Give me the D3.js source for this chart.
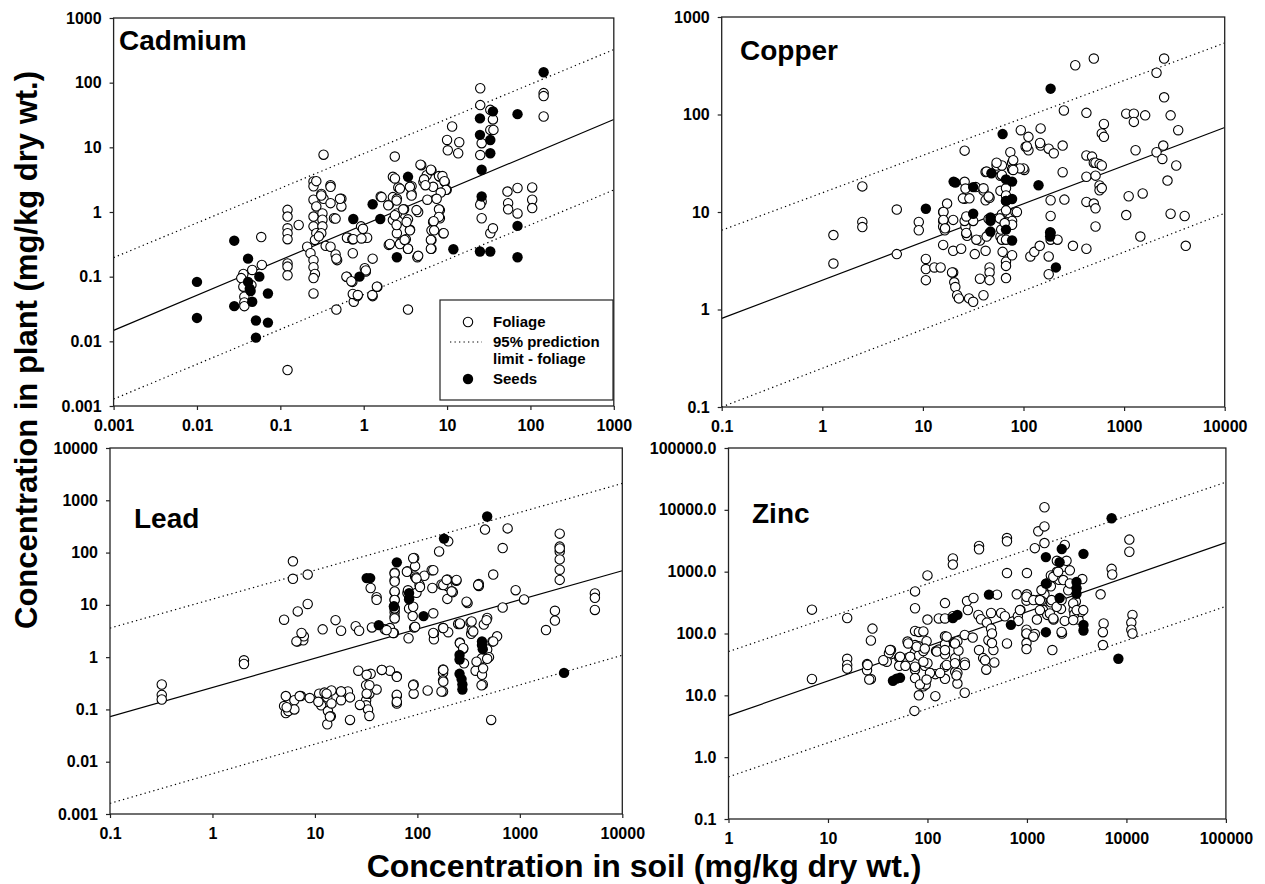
<!DOCTYPE html>
<html>
<head>
<meta charset="utf-8">
<script src="https://cdn.jsdelivr.net/npm/d3@7"></script>
<style>
	body { margin: 0; background: #fff; }
	svg { display: block; font-family: "Liberation Sans", Arial, sans-serif; }
</style>
</head>
<body>
<svg id="svg_main" width="1265" height="884"></svg>
<script>
// ---- data (mg/kg dry wt.) ----
var cdXTicks = [0.001, 0.01, 0.1, 1, 10, 100, 1000],
	cdYTicks = [0.001, 0.01, 0.1, 1, 10, 100, 1000];
var cdFoliage = [
	[0.036,0.11],[0.034,0.095],[0.036,0.07],[0.037,0.049],[0.037,0.04],[0.037,0.035],[0.046,0.127],[0.045,0.074],[0.06,0.152],[0.059,0.41],
	[0.122,1.08],[0.122,0.85],[0.122,0.56],[0.122,0.47],[0.122,0.38],[0.122,0.16],[0.122,0.143],[0.122,0.105],[0.122,0.0036],[0.166,0.63],
	[0.21,0.29],[0.23,0.23],[0.25,2.96],[0.25,2.5],[0.25,1.55],[0.27,1.22],[0.25,0.85],[0.25,0.6],[0.27,0.47],[0.26,0.37],[0.25,0.18],[0.25,0.14],[0.26,0.11],[0.25,0.095],[0.25,0.055],[0.27,3.0],
	[0.33,7.7],[0.31,1.9],[0.33,1.6],[0.32,0.95],[0.32,0.76],[0.32,0.6],[0.31,0.47],[0.35,0.3],[0.29,0.42],[0.4,2.6],[0.4,1.37],[0.4,0.29],[0.44,0.8],
	[0.54,1.6],[0.54,1.22],[0.46,0.22],[0.48,0.18],[0.47,0.031],[0.31,1.8],[0.4,2.45],[0.52,1.6],[0.46,0.79],[0.47,0.19],[0.65,0.4],
	[0.63,0.4],[0.73,0.38],[0.74,0.23],[0.63,0.1],[0.73,0.083],[0.76,0.052],[0.76,0.041],[0.84,0.05],[0.93,0.6],[0.98,0.4],[1.03,0.135],[1.1,0.4],[1.06,0.12],[1.28,0.19],[1.28,0.05],[1.46,0.07],[1.6,1.74],[2.0,1.3],[2.36,7.2],
	[0.75,0.38],[0.94,0.39],[0.98,0.55],[0.62,0.1],[0.71,0.085],[1.06,0.125],[0.74,0.054],[0.85,0.052],[1.27,0.052],[1.44,0.07],
	[2.24,3.5],[2.6,2.4],[2.24,1.7],[2.5,1.6],[3.05,1.1],[2.5,0.95],[2.24,0.75],[2.6,0.72],[2.5,0.47],[2.8,0.34],[3.2,0.38],[3.4,0.27],[3.4,0.77],[3.6,0.53],[3.75,2.5],[3.75,1.9],[2.0,0.31],[4.4,0.2],[3.4,0.031],[4.5,1.0],
	[1.64,1.7],[1.97,1.27],[2.37,3.3],[2.72,2.3],[2.48,1.5],[2.98,1.1],[3.58,2.45],[3.75,1.8],[4.3,1.07],[4.9,5.3],[5.7,3.7],[6.5,4.4],[5.2,2.9],[6.8,2.45],[8.2,3.5],[9.4,2.9],[9.9,2.2],
	[8.2,1.07],[8.2,0.8],[6.8,0.7],[6.5,0.52],[6.5,0.37],[6.5,0.27],[9.0,0.47],[4.5,0.21],[3.58,0.52],[3.27,0.7],[2.37,0.89],[2.48,0.63],[2.06,0.32],[2.72,0.32],[3.1,0.37],[3.4,0.27],
	[4.8,5.4],[5.3,3.2],[5.5,2.6],[6.4,4.5],[5.8,1.55],[8.0,3.6],[8.8,3.6],[9.3,3.0],[9.7,2.2],[8.4,2.0],[8.0,1.1],[8.0,0.84],[6.9,0.72],[7.0,0.52],[6.4,0.37],[6.4,0.27],[9.1,0.47],[7.5,1.6],
	[10,13],[10.2,9.0],[11.5,21],[14,12],[13.6,8.1],
	[25,82],[25,45],[26,11.6],[25,7.6],[33,18.6],[35.5,27],[36,18.6],[26,1.45],[25,1.3],[26,0.8],[33,0.47],[35.5,0.56],[33,38],
	[53,2.07],[70,2.35],[54,1.37],[54,1.1],[70,0.95],[105,2.4],[105,1.55],[105,1.15],[144,69],[144,62],[144,30]
];
var cdSeeds = [
	[0.01,0.083],[0.01,0.023],[0.028,0.36],[0.028,0.035],[0.041,0.19],[0.041,0.083],[0.043,0.065],[0.044,0.06],[0.046,0.041],[0.051,0.021],[0.051,0.0114],
	[0.056,0.10],[0.071,0.055],[0.071,0.0195],[0.75,0.78],[0.89,0.10],[1.28,1.32],[1.58,0.78],[2.5,0.20],[3.4,3.5],[11.9,0.265],
	[24.8,28],[24.8,15.6],[24.8,0.245],[26,4.5],[26,1.74],[33,13],[33,8.1],[35.5,36],[33,0.245],[70,32.6],[70,0.61],[70,0.20],[144,145]
];
var cdFit = [[0.001,0.0148],[1000,27]],
	cdUpper = [[0.001,0.197],[1000,325]],
	cdLower = [[0.001,0.00128],[1000,2.19]];

var cuXTicks = [0.1, 1, 10, 100, 1000, 10000],
	cuYTicks = [0.1, 1, 10, 100, 1000];
var cuFoliage = [
	[1.29,5.8],[1.29,2.96],[2.5,18.3],[2.5,7.9],[2.5,7.0],[5.5,10.6],[5.5,3.7],[9.1,7.9],[9.1,6.5],[10.7,3.3],[10.7,2.6],[10.7,2.0],[13,2.7],[15,2.7],
	[15.9,10],[15.9,8.1],[15.9,7.1],[16.5,6.5],[17.4,12.2],[15.9,4.6],[20,4.0],[20,2.4],[20.5,1.9],[21,1.7],[21.9,1.4],[22.8,1.3],[19.5,2.4],[24,4.2],
	[26,42.6],[26,20.4],[26.5,17.4],[26,13.7],[26.5,7.1],[27,6.0],[27.5,5.7],[26,8.1],[28.8,1.3],[31.6,1.2],[32.8,3.7],[33.5,18],[31.6,8.1],[36.9,5.1],[36.9,2.07],
	[40,16.6],[40,1.4],[42,25.7],[42,13.2],[42,4.0],[46,2.7],[46,2.4],[46,2.0],[45,8.5],[46,6.1],[46,14],
	[54,30],[59,23.5],[59,16.5],[61,9.5],[59,8.6],[59,5.6],[61,5.2],[60,6.6],[61,30],[62,3.9],[67,17.5],[67,14.8],[67,13.0],[67,10.4],[67,7.9],[67,5.2],[67,3.1],[67,2.8],[67,2.1],
	[74,41],[77,32],[77,27.4],[77,8.1],[77,7.4],[77,3.6],[83,10],[94,69],[105,46.6],[112,59],[102,27],[100,28],[112,43],[117,3.5],[128,3.9],[145,4.5],[148,72],[148,48],[178,44.6],[200,40],
	[16,10],[16,8.3],[16.6,6.8],[20,8.3],[27,9],[27,6.1],[34,5.2],[43,5.6],[58,8.6],[65,7.7],[86,10],[92,28],[108,47],[146,51],[79,34],[54,32],[43,26],[61,24],[79,27],[25,13.8],[29,13.8],[40,17.5],[45,14.4],
	[186,13.2],[186,9.1],[186,6.1],[186,5.2],[178,3.5],[178,2.3],[218,5.2],[245,48],[252,110],[245,25.6],[255,13.4],[310,4.5],[327,320],
	[422,104],[422,38],[422,23],[422,12.7],[422,4.2],[480,37],[500,32],[520,32],[500,375],[520,23.6],[500,12.2],[520,10.9],[520,7.1],[570,31],[600,30],[570,18.7],[570,16.7],[600,17.6],[600,64],[630,59],[630,80],
	[1050,102],[1250,102],[1250,84],[1620,98],[1050,9.3],[1110,14.5],[1450,5.6],[1530,15.5],[1300,43],
	[2100,268],[2500,375],[2500,150],[2100,41],[2450,48],[2400,35],[2700,21],[2900,98],[3450,69],[3300,30],[2900,9.6],[4000,9.1],[4100,4.5]
];
var cuSeeds = [
	[10.7,10.8],[20.2,20.5],[21,20],[31.6,18],[31.6,9.6],[48,25],[47,8.8],[47,8.1],[47,6.3],[62,63],[67,21.6],[77,20.5],[67,13.0],[77,13.6],
	[67,6.6],[77,5.1],[141,18.8],[186,184],[184,6.2],[184,5.6],[210,2.7]
];
var cuFit = [[0.1,0.81],[10000,73.6]],
	cuUpper = [[0.1,6.5],[10000,541]],
	cuLower = [[0.1,0.1],[10000,9.7]];

var pbXTicks = [0.1, 1, 10, 100, 1000, 10000],
	pbYTicks = [0.001, 0.01, 0.1, 1, 10, 100, 1000, 10000];
var pbFoliage = [
	[0.32,0.30],[0.32,0.19],[0.32,0.155],[2.03,0.87],[2.03,0.74],[5.0,5.2],[5.2,0.18],[5.0,0.116],[5.2,0.085],[5.5,0.093],[6.1,68],[6.1,31.5],[6.3,0.15],[6.3,0.1],
	[6.8,7.5],[6.8,2.0],[7.7,2.1],[7.8,2.5],[7.3,0.18],[8.5,38],[8.5,10.4],[8.9,0.165],[11,0.2],[11.5,0.12],[11.9,3.4],[12.4,0.21],[13.2,0.17],[13.4,0.093],[14.3,0.074],
	[13.2,0.052],[14.5,0.13],[14.5,0.23],[15.9,5.1],[18,3.2],[18,0.22],[18,0.15],[21,0.22],[22,0.17],[22,0.063],
	[25,3.9],[27,3.2],[26.5,0.55],[31.6,0.29],[31.6,0.15],[31.6,0.12],[33,0.1],[34,0.075],[34,0.2],[35,0.48],[35,21],[40,14],[40,12.5],[36,3.7],[40,0.24],[45,0.57],[48,3.4],
	[54,3.6],[54,0.55],[59,2.9],[60,41],[60,30],[60,17.7],[60,12.5],[60,7.2],[60,6.0],[60,8.4],[63,0.43],[63,0.18],[63,0.13],
	[80,44],[83,14.5],[80,16.8],[83,8.5],[82,2.3],[93,79],[95,55],[95,35],[97,33],[90,6.1],[93,3.7],[92,0.3],[92,0.2],[117,36],[105,24],[98,17],[126,0.23],
	[143,6.9],[145,2.8],[145,2.2],[138,46],[140,21],[163,105],[178,0.58],[178,0.5],[178,0.36],[178,0.22],[178,3.6],[172,24.5],[196,30.5],[196,22.8],[196,13],[200,164],[200,3.0],[217,18.3],[222,17.5],[240,29],
	[250,4.3],[260,4.3],[260,1.9],[280,1.45],[285,0.76],[309,10.8],[330,4.6],[335,2.8],[340,3.3],[370,0.55],[398,25],[398,23],[427,0.95],[427,0.46],[435,0.3],[445,4.2],[457,275],
	[480,5.6],[480,1.4],[500,1.0],[480,0.93],[525,0.063],[540,2.0],[600,2.5],[550,38],[680,122],[680,8.9],[760,290],[910,19.1],[1100,12.7],[1800,3.3],[2200,7.7],[2200,5.0],
	[2450,230],[2450,130],[2450,105],[2450,74],[2450,47],[2450,30],[2450,120],[5400,16.5],[5400,13.6],[5400,8.0],
	[60,40],[60,28],[60,18],[60,12.4],[60,8.6],[60,5.5],[79,43],[91,78],[98,32],[106,22],[81,19],[91,9.2],[143,46],[179,24],[193,30],[216,18],[241,30],[392,24],[302,11.5],
	[95,3.8],[58,2.9],[50,3.3],[143,2.9],[179,3.6],[260,4.4],[338,4.8],[351,3.1],[473,5.1],[550,2.0],[260,1.85],[280,1.48],[378,0.82],[438,0.61],[423,0.29],
	[179,0.57],[179,0.34],[172,0.22],[91,0.29],[63,0.42],[63,0.19],[63,0.14],[45,0.57],[32,0.46],[34,0.29],[32,0.2],[27.5,0.122],[14,0.073],[18,0.22],[13,0.2],[10.8,0.14],[7.1,0.18],[5.3,0.11],[7.4,2.9],[6.6,2.0]
];
var pbSeeds = [
	[32,32.5],[34.6,32.5],[42,4.1],[59,9.4],[63,65],[83,16.8],[83,12.8],[115,6.1],[182,185],[258,1.1],[258,0.9],[258,0.48],[270,0.38],[275,0.3],[275,0.24],
	[427,2.0],[427,1.7],[435,1.42],[480,490],[2700,0.5]
];
var pbFit = [[0.1,0.073],[10000,45]],
	pbUpper = [[0.1,3.6],[10000,2100]],
	pbLower = [[0.1,0.0016],[10000,1.09]];

var znXTicks = [1, 10, 100, 1000, 10000, 100000],
	znYTicks = [0.1, 1, 10, 100, 1000, 10000, 100000];
var znFoliage = [
	[6.9,243],[6.9,18.4],[15.6,178],[15.6,39],[15.6,31],[15.6,27],[24.7,32],[24.7,25.5],[27,18.4],[27,77],[28,120],[36.6,37],[43,54],[41,48],[39,35],[52,41],[52,30],[63,74],[60,30],
	[75,480],[75,256],[75,110],[75,65],[75,50],[75,26],[75,19],[74,5.6],[82,106],[82,62],[82,44],[82,10],[91,108],[91,52],[91,14],[96,15],[94,30],[100,870],[100,168],[98,75],[100,33],
	[107,23],[120,22],[120,9.7],[122,52],[130,55],[130,175],[150,310],[150,175],[150,90],[150,67],[150,46],[150,29],[150,18.5],
	[180,1640],[180,1300],[180,190],[185,70],[190,40],[190,24],[200,23],[200,15.5],[200,75],[205,53],[237,34],[237,11],[237,95],[250,335],[255,240],[290,375],[285,86],
	[330,2600],[330,2300],[325,199],[330,54],[345,170],[363,40],[380,37],[390,26],[395,150],[410,78],[436,215],[436,120],[445,100],[460,54],[470,34],[445,70],[500,425],[550,215],[600,190],
	[630,3500],[630,3100],[630,950],[630,69],[790,430],[810,190],[820,160],[860,240],
	[1000,950],[1000,430],[990,340],[990,115],[990,98],[990,70],[990,56],[1200,98],[1260,168],[1200,2400],[1300,4500],[1300,350],[1500,11000],[1500,5400],[1500,2900],[1500,430],[1450,240],[1400,340],
	[1740,870],[1740,580],[1740,320],[1600,200],[1850,168],[1800,54],[2000,1000],[2100,740],[2000,1500],[2200,250],[2250,100],[2400,160],[2300,1200],[2400,2700],[2500,1500],[2600,500],[2700,1050],
	[2950,240],[3100,330],[3300,168],[3000,205],[3500,225],[3600,760],[5500,430],[5900,145],[5800,105],[5800,65],[7100,1110],[7200,900],[10700,3300],[10700,2100],[11500,200],[11200,150],[11200,115],[11500,100],
	[42,54],[53,42],[64,69],[78,61],[94,57],[75,29],[91,35],[106,23],[124,51],[156,89],[150,54],[189,69],[156,31],[189,33],[196,21],[238,31],[84,15],[98,18],[134,23],[67,42],[36,37],[25,31],[26,18],
	[990,393],[1160,347],[850,239],[1350,347],[1400,504],[1580,646],[1840,826],[2060,995],[2320,731],[2700,646],[1770,347],[1350,239],[1700,211],[1990,271],[2230,347],[2920,307],[3160,239],[1840,175],
	[990,100],[1160,89],[2230,106],[2920,165],[3680,239]
];
var znSeeds = [
	[45,17.2],[49,18.6],[53,19.2],[180,177],[200,200],[415,425],[690,138],[1550,1720],[1550,640],[1550,105],[2130,1420],[2130,375],[2240,2330],
	[3150,680],[3150,540],[3150,440],[3700,1940],[3700,138],[3700,112],[7100,7300],[8300,39]
];
var znFit = [[1,4.7],[100000,2950]],
	znUpper = [[1,51],[100000,28000]],
	znLower = [[1,0.48],[100000,275]];

var legendLabels = ["Foliage", "95% prediction", "limit - foliage", "Seeds"];

// ---- layout ----
var panels = [
	{ name: "Cadmium", foliage: cdFoliage, seeds: cdSeeds, fit: cdFit, upper: cdUpper, lower: cdLower,
		xTicks: cdXTicks, yTicks: cdYTicks, box: [113.6, 18, 613.8, 406], title: [119, 50], legend: true },
	{ name: "Copper", foliage: cuFoliage, seeds: cuSeeds, fit: cuFit, upper: cuUpper, lower: cuLower,
		xTicks: cuXTicks, yTicks: cuYTicks, box: [721.7, 17, 1224.7, 407], title: [740, 60] },
	{ name: "Lead", foliage: pbFoliage, seeds: pbSeeds, fit: pbFit, upper: pbUpper, lower: pbLower,
		xTicks: pbXTicks, yTicks: pbYTicks, box: [110, 448, 622.3, 814], title: [134, 528] },
	{ name: "Zinc", foliage: znFoliage, seeds: znSeeds, fit: znFit, upper: znUpper, lower: znLower,
		xTicks: znXTicks, yTicks: znYTicks, box: [728.5, 448, 1225.9, 819], title: [752, 523], yFormat: d3.format(".1f") }
];

var svg = d3.select("#svg_main");
var R = 4.7;

panels.forEach((p, i) => {
	var [x0, y0, x1, y1] = p.box;
	var x = d3.scaleLog().domain(d3.extent(p.xTicks)).range([x0, x1]),
		y = d3.scaleLog().domain(d3.extent(p.yTicks)).range([y1, y0]);

	var g = svg.append("g").attr("class", "panel");

	g.append("clipPath").attr("id", `clip${i}`)
		.append("rect").attr("x", x0).attr("y", y0).attr("width", x1 - x0).attr("height", y1 - y0);

	var xAxis = d3.axisBottom(x).tickValues(p.xTicks).tickSize(4).tickPadding(10).tickFormat(d => String(d)),
		yAxis = d3.axisLeft(y).tickValues(p.yTicks).tickSize(4).tickPadding(8).tickFormat(p.yFormat || (d => String(d)));

	g.append("g").attr("transform", `translate(0, ${y1})`).call(xAxis);
	g.append("g").attr("transform", `translate(${x0}, 0)`).call(yAxis);
	g.selectAll(".domain").remove();
	g.selectAll(".tick line").attr("stroke", "#222").attr("stroke-width", 1.2);
	g.selectAll(".tick text")
		.attr("fill", "#000")
		.attr("font-size", "16px")
		.attr("font-weight", "bold")
		.attr("font-family", "'Liberation Sans', Arial, sans-serif");

	var line = d3.line().x(d => x(d[0])).y(d => y(d[1]));
	var lines = g.append("g").attr("clip-path", `url(#clip${i})`);
	lines.append("path").datum(p.fit).attr("d", line)
		.attr("fill", "none").attr("stroke", "#000").attr("stroke-width", 1.2);
	[p.upper, p.lower].forEach(l => {
		lines.append("path").datum(l).attr("d", line)
			.attr("fill", "none").attr("stroke", "#000").attr("stroke-width", 1.2)
			.attr("stroke-dasharray", "1.3,3.2");
	});

	g.append("g").selectAll("circle.foliage")
		.data(p.foliage)
		.enter().append("circle")
		.attr("class", "foliage")
		.attr("cx", d => x(d[0]))
		.attr("cy", d => y(d[1]))
		.attr("r", R)
		.attr("fill", "#fff")
		.attr("stroke", "#000")
		.attr("stroke-width", 1.1);

	g.append("g").selectAll("circle.seed")
		.data(p.seeds)
		.enter().append("circle")
		.attr("class", "seed")
		.attr("cx", d => x(d[0]))
		.attr("cy", d => y(d[1]))
		.attr("r", R + 0.5)
		.attr("fill", "#000");

	g.append("rect")
		.attr("x", x0).attr("y", y0)
		.attr("width", x1 - x0).attr("height", y1 - y0)
		.attr("fill", "none").attr("stroke", "#222").attr("stroke-width", 1.3);

	g.append("text")
		.attr("x", p.title[0]).attr("y", p.title[1])
		.attr("font-size", "28px").attr("font-weight", "bold")
		.text(p.name);

	if (p.legend) {
		var lg = g.append("g").attr("class", "legend");
		lg.append("rect")
			.attr("x", 440).attr("y", 300).attr("width", 173).attr("height", 100)
			.attr("fill", "#fff").attr("stroke", "#222").attr("stroke-width", 1.2);
		lg.append("circle").attr("cx", 468).attr("cy", 322).attr("r", R)
			.attr("fill", "#fff").attr("stroke", "#000").attr("stroke-width", 1.1);
		lg.append("line").attr("x1", 450).attr("x2", 482).attr("y1", 342).attr("y2", 342)
			.attr("stroke", "#000").attr("stroke-width", 1.2).attr("stroke-dasharray", "1.3,3.2");
		lg.append("circle").attr("cx", 468).attr("cy", 379).attr("r", R + 0.5).attr("fill", "#000");
		var ly = [327, 347, 364, 384];
		legendLabels.forEach((t, k) => {
			lg.append("text").attr("x", 493).attr("y", ly[k])
				.attr("font-size", "15px").attr("font-weight", "bold").text(t);
		});
	}
});

// axis titles
svg.append("text")
	.attr("x", 644).attr("y", 877)
	.attr("text-anchor", "middle")
	.attr("font-size", "32px").attr("font-weight", "bold")
	.text("Concentration in soil (mg/kg dry wt.)");
svg.append("text")
	.attr("transform", "translate(37, 350) rotate(-90)")
	.attr("text-anchor", "middle")
	.attr("font-size", "31px").attr("font-weight", "bold")
	.text("Concentration in plant (mg/kg dry wt.)");
</script>
</body>
</html>
